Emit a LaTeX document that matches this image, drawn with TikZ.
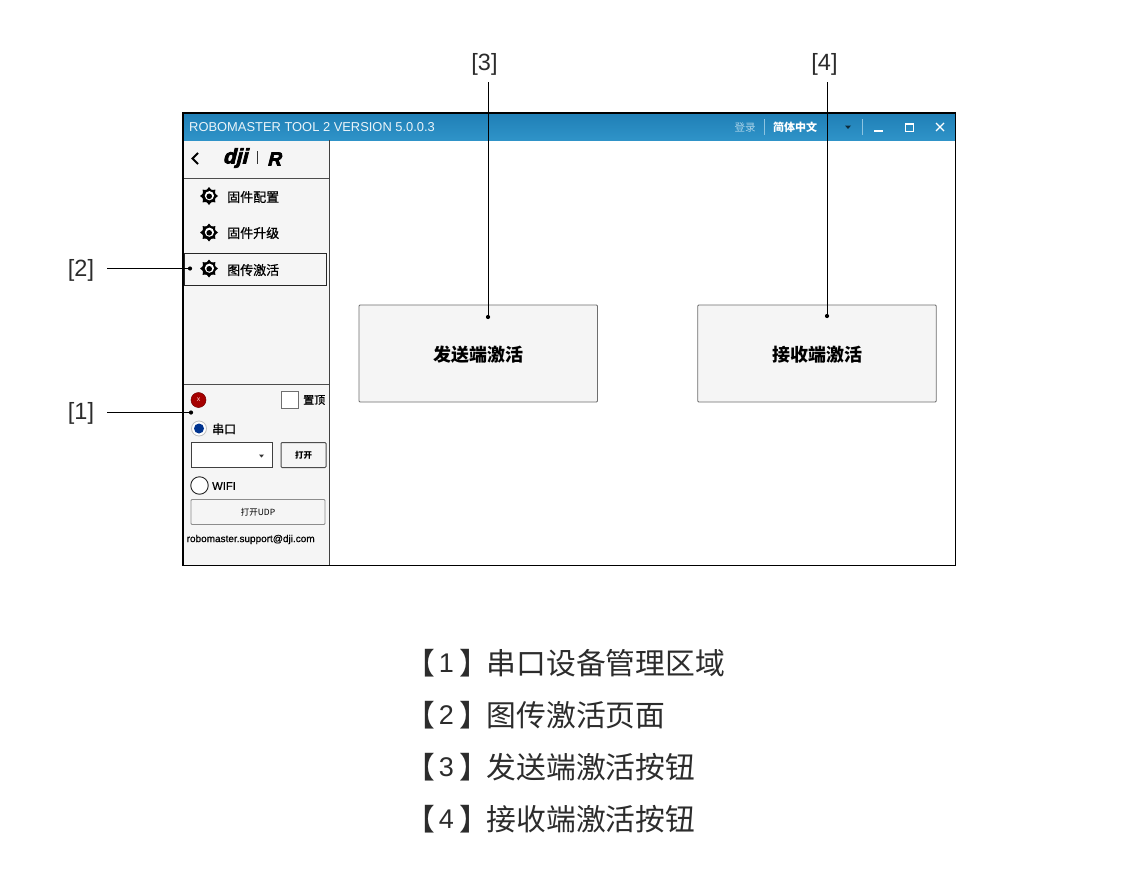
\documentclass[tikz,border=0pt]{standalone}
\usepackage{fontspec}
\setmainfont{Liberation Sans}
\newfontfamily\cjk{Noto Sans CJK SC}
\newfontfamily\cjkm[FakeBold=0.7]{Noto Sans CJK SC}
\newfontfamily\heavy[FakeBold=3.5,FakeSlant=0.25]{Liberation Sans Bold}
\newfontfamily\semi[FakeBold=0.6]{Liberation Sans}
\definecolor{barblue}{HTML}{2F93C8}
\definecolor{bartop}{HTML}{1F7FB6}
\definecolor{paneg}{HTML}{F5F5F5}
\definecolor{btnbd}{HTML}{6E6E6E}
\definecolor{ink}{HTML}{2C2C2C}
\tikzset{
  callout/.style={font=\fontsize{23.5}{24}\selectfont, text=ink, inner sep=0pt},
  leader/.style={draw=black, line width=0.9pt},
  dotm/.style={circle, fill=black, inner sep=0pt, minimum size=4.2pt},
  bigbtn/.style={draw=btnbd, fill=paneg, line width=0.9pt, rounded corners=1pt, minimum width=238.5pt, minimum height=97pt, inner sep=0pt},
  bigtxt/.style={font=\cjk\fontsize{18}{18}\selectfont\bfseries, text=black, inner sep=0pt},
  menutxt/.style={font=\cjkm\fontsize{13}{13}\selectfont, text=black, inner sep=0pt, anchor=west},
  listtxt/.style={font=\cjk\fontsize{29.8}{30}\selectfont, text=ink, inner sep=0pt, anchor=west},
  numtxt/.style={font=\fontsize{27}{27}\selectfont, text=ink, inner sep=0pt},
  gear/.pic={
    \foreach \a in {0,45,...,315}{\fill[black,rotate=\a] (-2.4,-6) -- (0,-9) -- (2.4,-6) -- cycle;}
    \fill[black] (0,0) circle (6.8pt);
    \fill[white] (0.4,-0.3) circle (4.6pt);
    \fill[black] (0.2,0.3) circle (2.8pt);
  },
}
\begin{document}
\begin{tikzpicture}[x=1pt,y=-1pt]
\useasboundingbox (0,0) rectangle (1129,883);
\fill[white] (0,0) rectangle (1129,883);

% window
\fill[white] (183,113) rectangle (955,565);
\fill[paneg] (183,140) rectangle (329,565);
\shade[top color=bartop, bottom color=barblue] (183,113) rectangle (955,140);
\draw[black!75,line width=1pt] (329,140) -- (329,565);
\draw[black!70,line width=1pt] (183,178) -- (329,178);
\draw[black!70,line width=1pt] (183,384) -- (329,384);
\draw[black,line width=1.1pt] (183,113) rectangle (955.5,565.5);
\node[font=\fontsize{12.9}{13}\selectfont, text=white!90!barblue, anchor=west, inner sep=0pt] (title) at (189,127.5) {ROBOMASTER TOOL 2 VERSION 5.0.0.3};

% title bar right
\node[font=\cjk\fontsize{10.5}{11}\selectfont, text=white!60!barblue, inner sep=0pt] (login) at (745,127.5) {登录};
\draw[white!45!barblue,line width=.6pt] (764.5,119) -- (764.5,135);
\node[font=\cjk\fontsize{11}{11}\selectfont\bfseries, text=white, inner sep=0pt] (lang) at (795,127.5) {简体中文};
\fill[black!70!barblue] (845,125.5) -- (851,125.5) -- (848,129) -- cycle;
\draw[white!45!barblue,line width=.6pt] (862,119) -- (862,135);
\draw[white,line width=1.3pt] (874,131) -- (883,131);
\draw[white,line width=1pt] (905,123) rectangle (913,131);
\draw[white,line width=1.8pt] (905,124) -- (913,124);
\draw[white,line width=1.3pt] (936,123) -- (944,131) (944,123) -- (936,131);

% header logo
\draw[black,line width=1.9pt] (198,153) -- (192.5,158.5) -- (198,164);
\node[font=\heavy\fontsize{21}{21}\selectfont, text=black, inner sep=0pt] (dji) at (235,158) {dji};
\draw[black!80,line width=1pt] (257,151) -- (257,164);
\node[font=\heavy\fontsize{19}{19}\selectfont, text=black, inner sep=0pt] (rlogo) at (274,159) {R};

% menu
\pic at (209,196) {gear};
\pic at (209,232.5) {gear};
\node[menutxt] (m1) at (227,197) {固件配置};
\node[menutxt] (m2) at (227,233) {固件升级};
\draw[black!85,line width=1pt,fill=paneg] (184,253) rectangle (326,285);
\pic at (209,268.5) {gear};
\node[menutxt] (m3) at (227,270) {图传激活};

% serial panel
\node[circle, fill=red!65!black, inner sep=0pt, minimum size=15pt, draw=red!45!black, line width=.5pt] (err) at (198.5,400) {};
\node[font=\fontsize{7}{7}\selectfont, text=white!80!red, inner sep=0pt] at (err) {x};
\node[draw=btnbd, fill=white, line width=1pt, minimum size=16.5pt, inner sep=0pt] (pin) at (290,400) {};
\node[font=\cjkm\fontsize{11}{11}\selectfont, text=black, inner sep=0pt, anchor=west] (pintxt) at (303,400) {置顶};
\node[circle, draw=black!25, fill=white, line width=.8pt, minimum size=15pt, inner sep=0pt] (r1) at (199,428.5) {};
\node[circle, fill=blue!45!black!80!cyan, inner sep=0pt, minimum size=10pt] at (r1) {};
\node[font=\cjkm\fontsize{12}{12}\selectfont, text=black, inner sep=0pt, anchor=west] (serial) at (212,429) {串口};
\node[draw=black!75, fill=white, line width=.9pt, minimum width=81pt, minimum height=25pt, inner sep=0pt] (combo) at (231.5,455) {};
\fill[black!80] (259,454.5) -- (264,454.5) -- (261.5,457.5) -- cycle;
\node[draw=black!70, fill=paneg, line width=1pt, rounded corners=1pt, minimum width=45pt, minimum height=25pt, inner sep=0pt, font=\cjk\fontsize{8.5}{9}\selectfont\bfseries] (open) at (303.5,455) {打开};
\node[circle, draw=black!85, fill=white, line width=.9pt, minimum size=17.5pt, inner sep=0pt] (r2) at (199.5,485.5) {};
\node[font=\semi\fontsize{11.2}{12}\selectfont, text=black, inner sep=0pt, anchor=west] (wifi) at (212,486) {WIFI};
\node[draw=black!45, fill=paneg, line width=.9pt, rounded corners=1pt, minimum width=134pt, minimum height=25pt, inner sep=0pt, font=\cjk\fontsize{8.5}{9}\selectfont] (udp) at (258,512) {打开UDP};
\node[font=\semi\fontsize{10}{10}\selectfont, text=black, inner sep=0pt, anchor=west] (mail) at (186.5,539.5) {robomaster.support@dji.com};

% big buttons
\node[bigbtn] (send) at (478.25,353.5) {};
\node[bigbtn] (recv) at (817,353.5) {};
\node[bigtxt] at (478.5,354.5) {发送端激活};
\node[bigtxt] at (817,354.5) {接收端激活};

% callouts
\node[callout] (c3) at (484.5,64) {[3]};
\node[callout] (c4) at (824.5,64) {[4]};
\node[callout] (c2) at (81,270.5) {[2]};
\node[callout] (c1) at (81,413.5) {[1]};
\node[dotm] (d3) at (488,317) {};
\node[dotm] (d4) at (827,316) {};
\node[dotm] (d2) at (190,268.5) {};
\node[dotm] (d1) at (191,412.5) {};
\coordinate (s3) at (488,82);
\coordinate (s4) at (827,82);
\coordinate (s2) at (107,268.5);
\coordinate (s1) at (107,412.5);
\draw[leader] (s3) -- (d3);
\draw[leader] (s4) -- (d4);
\draw[leader] (s2) -- (d2);
\draw[leader] (s1) -- (d1);

% legend
\foreach \n/\yy in {1/663,2/715,3/767,4/819}{
  \node[listtxt] at (405,\yy) {【};
  \node[numtxt] at (446.5,\yy) {\n};
  \node[listtxt] at (459,\yy) {】};
}
\node[listtxt] (l1) at (486.5,663) {串口设备管理区域};
\node[listtxt] (l2) at (486.5,715) {图传激活页面};
\node[listtxt] (l3) at (486.5,767) {发送端激活按钮};
\node[listtxt] (l4) at (486.5,819) {接收端激活按钮};
\end{tikzpicture}
\end{document}
